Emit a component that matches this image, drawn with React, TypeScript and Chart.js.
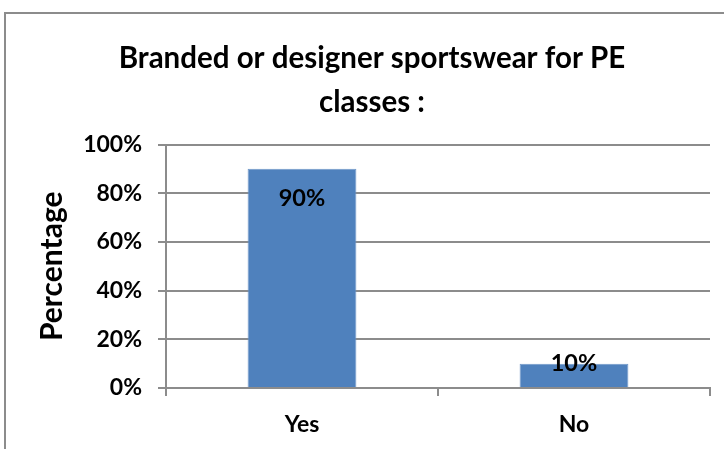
import React, { useEffect, useRef } from "react";
import { Chart, registerables } from "chart.js";

Chart.register(...registerables);

const categories = ["Yes", "No"];
const percentages = [90, 10];
const titleLines = ["Branded or designer sportswear for PE", "classes :"];
const yAxisTitle = "Percentage";

const FONT = "Lato, 'Open Sans', sans-serif";

const borderPlugin = {
  id: "outerBorder",
  beforeDraw(chart: any) {
    const ctx = chart.ctx;
    ctx.save();
    ctx.fillStyle = "#ffffff";
    ctx.fillRect(0, 0, chart.width, chart.height);
    ctx.strokeStyle = "#8c8c8c";
    ctx.lineWidth = 2;
    ctx.strokeRect(5, 13, chart.width + 20, chart.height + 20);
    ctx.restore();
  },
};

const labelPlugin = {
  id: "barLabels",
  afterDatasetsDraw(chart: any) {
    const ctx = chart.ctx;
    const meta = chart.getDatasetMeta(0);
    const base = chart.scales.y.getPixelForValue(0);
    ctx.save();
    ctx.font = `bold 23.5px ${FONT}`;
    ctx.fillStyle = "#000000";
    ctx.textAlign = "center";
    ctx.textBaseline = "middle";
    meta.data.forEach((bar: any, i: number) => {
      const y = Math.min(bar.y + 30, base - 25);
      ctx.fillText(percentages[i] + "%", bar.x, y);
    });
    ctx.restore();
  },
};

export default function App() {
  const ref = useRef<HTMLCanvasElement>(null);
  useEffect(() => {
    document.body.style.margin = "0";
    if (!ref.current) return;
    const chart = new Chart(ref.current, {
      type: "bar",
      data: {
        labels: categories,
        datasets: [
          {
            data: percentages,
            backgroundColor: "#4F81BD",
            borderColor: "#6f97c9",
            borderWidth: 1,
            categoryPercentage: 1,
            barPercentage: 0.4,
          },
        ],
      },
      options: {
        animation: false,
        responsive: false,
        devicePixelRatio: 1,
        layout: { padding: { left: 34, right: 14, top: 0, bottom: 0 } },
        plugins: {
          legend: { display: false },
          tooltip: { enabled: false },
          title: {
            display: true,
            text: titleLines,
            color: "#000000",
            font: { family: FONT, size: 29.5, weight: "bold", lineHeight: "44px" },
            padding: { top: 36, bottom: 20.5 },
          },
        },
        scales: {
          x: {
            offset: true,
            afterFit(scale: any) {
              scale.height = 61;
            },
            grid: {
              offset: true,
              drawOnChartArea: false,
              drawTicks: true,
              tickLength: 8,
              color: "#8c8c8c",
              lineWidth: 2,
            },
            border: { display: true, color: "#8c8c8c", width: 2 },
            ticks: {
              color: "#000000",
              padding: 15,
              font: { family: FONT, size: 23, weight: "bold" },
            },
          },
          y: {
            min: 0,
            max: 100,
            afterFit(scale: any) {
              scale.width = 132;
            },
            ticks: {
              stepSize: 20,
              color: "#000000",
              padding: 16,
              font: { family: FONT, size: 23, weight: "bold" },
              callback: (v: any) => v + "%",
            },
            grid: {
              color: "#8c8c8c",
              lineWidth: 2,
              tickLength: 8,
            },
            border: { display: true, color: "#8c8c8c", width: 2 },
            title: {
              display: true,
              text: yAxisTitle,
              color: "#000000",
              font: { family: FONT, size: 30, weight: "bold" },
              padding: { top: 0, bottom: 0 },
            },
          },
        },
      },
      plugins: [borderPlugin, labelPlugin],
    });
    return () => chart.destroy();
  }, []);
  return (
    <div style={{ width: 724, height: 449 }}>
      <canvas ref={ref} width={724} height={449} style={{ display: "block" }} />
    </div>
  );
}
